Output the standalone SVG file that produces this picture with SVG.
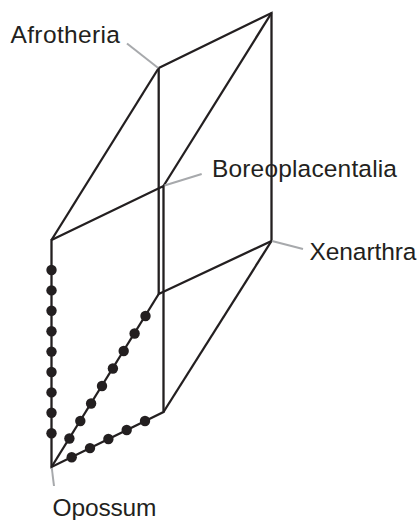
<svg xmlns="http://www.w3.org/2000/svg" width="420" height="520" viewBox="0 0 420 520">
  <style>
    .edge { fill: none; stroke: #231f20; stroke-width: 2.3; stroke-linejoin: miter; stroke-linecap: butt; }
    .leader { fill: none; stroke: #a7a9ac; stroke-width: 2; }
    .label { font-family: "Liberation Sans", Arial, sans-serif; font-size: 24.5px; fill: #231f20; }
    .dot { fill: #231f20; }
  </style>
  <rect width="420" height="520" fill="#ffffff"/>
  <g id="connectors">
    <path class="edge" d="M158.7,68 L271.5,13 L271.5,241 L158.7,294 Z"/>
    <path class="edge" d="M51.5,240 L163.5,186 L163.5,412 L51.5,467 Z"/>
    <path class="edge" d="M271.5,13 L163.5,186"/>
    <path class="edge" d="M158.7,68 L51.5,240"/>
    <path class="edge" d="M271.5,241 L163.5,412"/>
    <path class="edge" d="M51.5,467 L158.7,294"/>
  </g>
  <g id="dots">
    <circle class="dot" cx="51.5" cy="270" r="5.2"/>
    <circle class="dot" cx="51.5" cy="290.4" r="5.2"/>
    <circle class="dot" cx="51.5" cy="310.8" r="5.2"/>
    <circle class="dot" cx="51.5" cy="331.2" r="5.2"/>
    <circle class="dot" cx="51.5" cy="351.6" r="5.2"/>
    <circle class="dot" cx="51.5" cy="372" r="5.2"/>
    <circle class="dot" cx="51.5" cy="392.4" r="5.2"/>
    <circle class="dot" cx="51.5" cy="412.8" r="5.2"/>
    <circle class="dot" cx="51.5" cy="433.2" r="5.2"/>
    <circle class="dot" cx="145.5" cy="316" r="5.2"/>
    <circle class="dot" cx="134.6" cy="333.5" r="5.2"/>
    <circle class="dot" cx="123.7" cy="351" r="5.2"/>
    <circle class="dot" cx="112.9" cy="368.5" r="5.2"/>
    <circle class="dot" cx="102" cy="386" r="5.2"/>
    <circle class="dot" cx="91.1" cy="403.5" r="5.2"/>
    <circle class="dot" cx="80.3" cy="421" r="5.2"/>
    <circle class="dot" cx="69.4" cy="438.5" r="5.2"/>
    <circle class="dot" cx="145" cy="421" r="5.2"/>
    <circle class="dot" cx="126.7" cy="430" r="5.2"/>
    <circle class="dot" cx="108.4" cy="439" r="5.2"/>
    <circle class="dot" cx="90" cy="448.1" r="5.2"/>
    <circle class="dot" cx="71.7" cy="457.2" r="5.2"/>
  </g>
  <g id="afrotheria">
    <line class="leader" x1="127" y1="43.5" x2="158.2" y2="68"/>
    <text class="label" x="10.5" y="43" textLength="109.5" lengthAdjust="spacing">Afrotheria</text>
  </g>
  <g id="boreoplacentalia">
    <line class="leader" x1="201.7" y1="174" x2="164.5" y2="185.5"/>
    <text class="label" x="212" y="176.7" textLength="185" lengthAdjust="spacing">Boreoplacentalia</text>
  </g>
  <g id="xenarthra">
    <line class="leader" x1="303" y1="249" x2="272" y2="241"/>
    <text class="label" x="309.5" y="260" textLength="107" lengthAdjust="spacing">Xenarthra</text>
  </g>
  <g id="opossum">
    <line class="leader" x1="54" y1="486" x2="51.8" y2="468"/>
    <text class="label" x="52.5" y="516" textLength="104" lengthAdjust="spacing">Opossum</text>
  </g>
</svg>
